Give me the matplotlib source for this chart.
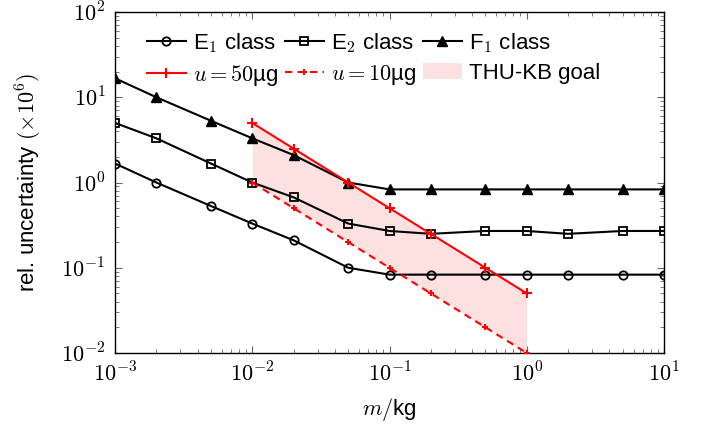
import numpy as np
import matplotlib
matplotlib.use("Agg")
import matplotlib.pyplot as plt
from matplotlib.ticker import FuncFormatter, LogLocator

plt.rcParams["mathtext.fontset"] = "cm"
plt.rcParams["font.family"] = ["Liberation Sans", "DejaVu Sans"]

# masses in kg
masses = [0.001, 0.002, 0.005, 0.01, 0.02, 0.05, 0.1, 0.2, 0.5, 1, 2, 5, 10]
# relative uncertainty (x1e-6)
e1_class = [1.67, 1.0, 0.53, 0.33, 0.21, 0.1, 0.083, 0.083, 0.083, 0.083, 0.083, 0.083, 0.083]
e2_class = [5.0, 3.3, 1.67, 1.0, 0.67, 0.33, 0.27, 0.25, 0.27, 0.27, 0.25, 0.27, 0.27]
f1_class = [16.7, 10.0, 5.3, 3.3, 2.1, 1.0, 0.83, 0.83, 0.83, 0.83, 0.83, 0.83, 0.83]

goal_masses = [0.01, 0.02, 0.05, 0.1, 0.2, 0.5, 1]
u50 = [5.0, 2.5, 1.0, 0.5, 0.25, 0.1, 0.05]
u10 = [1.0, 0.5, 0.2, 0.1, 0.05, 0.02, 0.01]

fig = plt.figure(figsize=(7.02, 4.26), dpi=100)
ax = fig.add_axes([115 / 702, 73 / 426, 549 / 702, 341 / 426])

lw = 1.5
ax.fill_between(goal_masses, u10, u50, color="#fde1e1", lw=0, label="THU-KB goal", zorder=1)
ax.plot(masses, e1_class, "k-o", mfc="none", mew=1.3, ms=6, lw=lw, label=r"E$_1$ class", zorder=3)
ax.plot(masses, e2_class, "k-s", mfc="none", mew=1.3, ms=6, lw=lw, label=r"E$_2$ class", zorder=3)
ax.plot(masses, f1_class, "k-^", ms=6.5, lw=lw, label=r"F$_1$ class", zorder=3)
ax.plot(goal_masses, u50, "-+", color="red", ms=7, mew=1.5, lw=lw,
        label=r"$u = 50$µg", zorder=4)
ax.plot(goal_masses, u10, "--+", color="red", ms=4.5, mew=1.5, lw=lw, dashes=(3.5, 2.5),
        label=r"$u = 10$µg", zorder=4)

ax.set_xscale("log")
ax.set_yscale("log")
ax.set_xlim(1e-3, 1e1)
ax.set_ylim(1e-2, 1e2)

fmt = FuncFormatter(lambda v, p: r"$10^{%d}$" % round(np.log10(v)))
ax.xaxis.set_major_formatter(fmt)
ax.yaxis.set_major_formatter(fmt)
ax.xaxis.set_minor_locator(LogLocator(subs=np.arange(2, 10)))
ax.yaxis.set_minor_locator(LogLocator(subs=np.arange(2, 10)))
ax.tick_params(which="both", direction="in", top=True, right=True, labelsize=16, color="#666666")
ax.tick_params(which="major", length=5, width=0.8, pad=7)
ax.tick_params(which="minor", length=3, width=0.6)
for s in ax.spines.values():
    s.set_linewidth(1.0)

ax.set_xlabel(r"$m/$kg", fontsize=16, labelpad=7)
ax.set_ylabel(r"rel. uncertainty $(\times 10^{6})$", fontsize=16, labelpad=12)

h, l = ax.get_legend_handles_labels()
order = [1, 4, 2, 5, 3, 0]
ax.legend([h[i] for i in order], [l[i] for i in order], ncol=3, loc="upper left",
          frameon=False, fontsize=16, handlelength=1.75, columnspacing=0.3,
          handletextpad=0.3, labelspacing=0.35, borderpad=0, borderaxespad=0,
          bbox_to_anchor=(32 / 549, 1 - 19 / 341))

fig.savefig("out.png", dpi=100)
